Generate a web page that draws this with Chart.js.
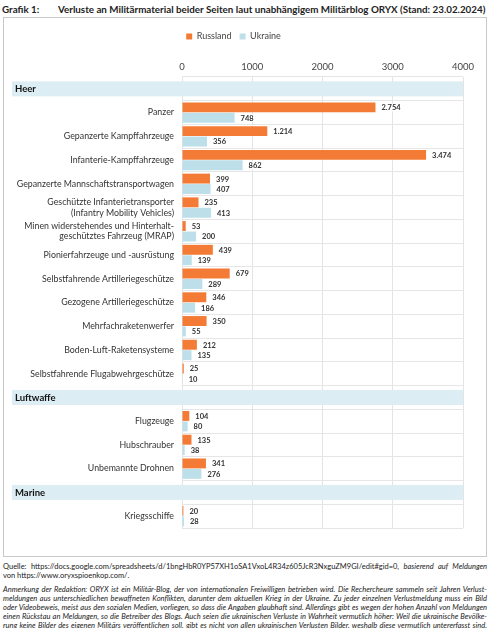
<!DOCTYPE html>
<html lang="de">
<head>
<meta charset="utf-8">
<script src="https://cdn.jsdelivr.net/npm/chart.js@4.4.1/dist/chart.umd.min.js"></script>
<style>
  html, body { margin: 0; padding: 0; background: #fff; }
  body { width: 490px; height: 628px; position: relative; font-family: Lato, "Open Sans", sans-serif; color: #222; overflow: hidden; }
  .title { position: absolute; top: 3px; left: 2px; font-size: 9.8px; font-weight: bold; white-space: nowrap; }
  .title .num { position: absolute; left: 0; }
  .title .txt { position: absolute; left: 56px; }
  .box { position: absolute; left: 3px; top: 17px; width: 482px; height: 538px; border: 1px solid #c9c9c9; }
  .box canvas { position: absolute; left: 0; top: 0; }
  .foot { position: absolute; left: 3px; top: 562px; width: 484px; font-size: 7.5px; line-height: 9.1px; color: #222; }
  .foot div { white-space: nowrap; text-align: justify; text-align-last: justify; }
  .foot div.left { text-align: left; text-align-last: left; }
  .foot .gap { height: 4.5px; }
  i { font-style: italic; }
</style>
</head>
<body>
<div class="title"><span class="num">Grafik 1:</span><span class="txt">Verluste an Militärmaterial beider Seiten laut unabhängigem Militärblog ORYX (Stand: 23.02.2024)</span></div>
<div class="box"><canvas id="chart" width="482" height="538"></canvas></div>
<div class="foot">
  <div>Quelle: https://docs.google.com/spreadsheets/d/1bngHbR0YP57XH1oSA1VxoL4R34z605JcR3NxguZM9GI/edit#gid=0, <i>basierend auf Meldungen</i></div>
  <div class="left">von https://www.oryxspioenkop.com/.</div>
  <div class="gap"></div>
  <div><i>Anmerkung der Redaktion: ORYX ist ein Militär-Blog, der von internationalen Freiwilligen betrieben wird. Die Rechercheure sammeln seit Jahren Verlust-</i></div>
  <div><i>meldungen aus unterschiedlichen bewaffneten Konflikten, darunter dem aktuellen Krieg in der Ukraine. Zu jeder einzelnen Verlustmeldung muss ein Bild</i></div>
  <div><i>oder Videobeweis, meist aus den sozialen Medien, vorliegen, so dass die Angaben glaubhaft sind. Allerdings gibt es wegen der hohen Anzahl von Meldungen</i></div>
  <div><i>einen Rückstau an Meldungen, so die Betreiber des Blogs. Auch seien die ukrainischen Verluste in Wahrheit vermutlich höher: Weil die ukrainische Bevölke-</i></div>
  <div><i>rung keine Bilder des eigenen Militärs veröffentlichen soll, gibt es nicht von allen ukrainischen Verlusten Bilder, weshalb diese vermutlich untererfasst sind.</i></div>
</div>
<script>
// section headers sit in the category list as their own rows
const sections = ["Heer", "Luftwaffe", "Marine"];

const categories = [
  "Heer",
  "Panzer",
  "Gepanzerte Kampffahrzeuge",
  "Infanterie-Kampffahrzeuge",
  "Gepanzerte Mannschaftstransportwagen",
  ["Geschützte Infanterietransporter", "(Infantry Mobility Vehicles)"],
  ["Minen widerstehendes und Hinterhalt-", "geschütztes Fahrzeug (MRAP)"],
  "Pionierfahrzeuge und -ausrüstung",
  "Selbstfahrende Artilleriegeschütze",
  "Gezogene Artilleriegeschütze",
  "Mehrfachraketenwerfer",
  "Boden-Luft-Raketensysteme",
  "Selbstfahrende Flugabwehrgeschütze",
  "Luftwaffe",
  "Flugzeuge",
  "Hubschrauber",
  "Unbemannte Drohnen",
  "Marine",
  "Kriegsschiffe",
];

const russland = [null, 2754, 1214, 3474, 399, 235, 53, 439, 679, 346, 350, 212, 25, null, 104, 135, 341, null, 20];
const ukraine  = [null, 748, 356, 862, 407, 413, 200, 139, 289, 186, 55, 135, 10, null, 80, 38, 276, null, 28];

const xTicks = [0, 1000, 2000, 3000, 4000];

const FONT = "Lato, 'Open Sans', sans-serif";
const isSection = (label) => typeof label === "string" && sections.includes(label);

const sectionBands = {
  id: "sectionBands",
  beforeDatasetsDraw(chart) {
    const { ctx, chartArea } = chart;
    const y = chart.scales.y;
    ctx.save();
    categories.forEach((cat, i) => {
      if (!isSection(cat)) return;
      const cy = y.getPixelForValue(i);
      ctx.fillStyle = "#ddedf4";
      ctx.fillRect(8, cy - 7.5, chartArea.right - 8, 15);
      ctx.fillStyle = "#111";
      ctx.font = "bold 9.5px " + FONT;
      ctx.textBaseline = "middle";
      ctx.textAlign = "left";
      ctx.fillText(cat, 11, cy + 0.5);
    });
    ctx.restore();
  },
};

const valueLabels = {
  id: "valueLabels",
  afterDatasetsDraw(chart) {
    const { ctx } = chart;
    ctx.save();
    ctx.font = "bold 7.5px " + FONT;
    ctx.textBaseline = "middle";
    ctx.textAlign = "left";
    chart.data.datasets.forEach((ds, di) => {
      chart.getDatasetMeta(di).data.forEach((bar, i) => {
        const v = ds.data[i];
        if (v == null) return;
        const txt = v.toLocaleString("de-DE");
        const w = ctx.measureText(txt).width;
        const x = bar.x + 6;
        ctx.fillStyle = "#fff";
        ctx.fillRect(x - 1, bar.y - 4, w + 2, 8);
        ctx.fillStyle = "#333";
        ctx.fillText(txt, x, bar.y + 0.5);
      });
    });
    ctx.restore();
  },
};

new Chart(document.getElementById("chart"), {
  type: "bar",
  data: {
    labels: categories,
    datasets: [
      {
        label: "Russland",
        data: russland,
        backgroundColor: "#f47b35",
        categoryPercentage: 0.88,
        barPercentage: 0.95,
      },
      {
        label: "Ukraine",
        data: ukraine,
        backgroundColor: "#bcdfea",
        categoryPercentage: 0.88,
        barPercentage: 0.95,
      },
    ],
  },
  options: {
    indexAxis: "y",
    responsive: false,
    animation: false,
    layout: { padding: { top: 6, right: 23, bottom: 28, left: 0 } },
    plugins: {
      legend: {
        position: "top",
        labels: {
          boxWidth: 6,
          boxHeight: 6,
          padding: 8,
          color: "#444",
          font: { family: FONT, size: 9 },
        },
      },
      tooltip: { enabled: false },
    },
    scales: {
      x: {
        position: "top",
        min: 0,
        max: 4000,
        afterBuildTicks(scale) {
          scale.ticks = xTicks.map((v) => ({ value: v }));
        },
        afterFit(scale) {
          scale.height = 26;
        },
        grid: { color: "#e4e4e4", drawTicks: false },
        border: { display: false },
        ticks: {
          padding: 4,
          color: "#444",
          font: { family: FONT, size: 9.5 },
          callback: (value) => String(value),
        },
      },
      y: {
        afterFit(scale) {
          scale.width = 178;
        },
        grid: { color: "#e6e6e6", drawTicks: false, offset: true },
        border: { display: false },
        ticks: {
          autoSkip: false,
          padding: 8,
          color: "#333",
          font: { family: FONT, size: 8.8 },
          callback(value) {
            const lab = categories[value];
            return isSection(lab) ? "" : lab;
          },
        },
      },
    },
  },
  plugins: [sectionBands, valueLabels],
});
</script>
</body>
</html>
